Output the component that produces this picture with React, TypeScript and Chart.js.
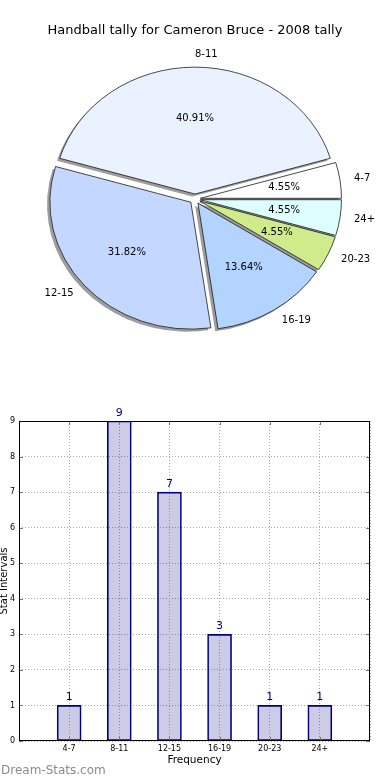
import React, { useEffect, useRef } from "react";
import { Chart, registerables } from "chart.js";

Chart.register(...registerables);

// ---------- data ----------
const chartTitle = "Handball tally for Cameron Bruce - 2008 tally";
const categories = ["4-7", "8-11", "12-15", "16-19", "20-23", "24+"];
const counts = [1, 9, 7, 3, 1, 1];
const sliceColors = ["#FFFFFF", "#EAF1FF", "#C4D8FF", "#B3D4FF", "#D0EB8B", "#DDFFFF"];
const yTickValues = [0, 1, 2, 3, 4, 5, 6, 7, 8, 9];
const xAxisTitle = "Frequency";
const yAxisTitle = "Stat Intervals";
const watermark = "Dream-Stats.com";

// ---------- style constants ----------
const FONT = "'DejaVu Sans', 'Liberation Sans', sans-serif";
const SQUASH = 0.9; // vertical squash of the pie (non-equal aspect)
const EXPLODE = 5.5; // px explode of every wedge
const PIE_RADIUS = 141;
const SHADOW = 2.8;

// matplotlib draws counter-clockwise from east; Chart.js goes clockwise, so reverse
const pieOrder = categories.map((_, i) => categories.length - 1 - i);
const total = counts.reduce((s, v) => s + v, 0);

const piePlugin = {
  id: "pieDecor",
  afterDatasetsUpdate(chart: any) {
    const meta = chart.getDatasetMeta(0);
    meta.data.forEach((a: any) => {
      const mid = (a.startAngle + a.endAngle) / 2;
      a.x += EXPLODE * Math.cos(mid);
      a.y += EXPLODE * Math.sin(mid);
    });
  },
  beforeDatasetsDraw(chart: any) {
    const { ctx, chartArea } = chart;
    const cx = (chartArea.left + chartArea.right) / 2;
    const cy = (chartArea.top + chartArea.bottom) / 2;
    ctx.save();
    ctx.translate(cx, cy);
    ctx.scale(1, SQUASH);
    ctx.translate(-cx, -cy);
    const meta = chart.getDatasetMeta(0);
    ctx.fillStyle = "rgba(60,60,60,0.5)";
    meta.data.forEach((a: any) => {
      const sx = a.x - SHADOW;
      const sy = a.y + SHADOW;
      ctx.beginPath();
      ctx.moveTo(sx, sy);
      ctx.arc(sx, sy, a.outerRadius, a.startAngle, a.endAngle);
      ctx.closePath();
      ctx.fill();
    });
  },
  afterDatasetsDraw(chart: any) {
    const { ctx, chartArea } = chart;
    ctx.restore();
    const cy = (chartArea.top + chartArea.bottom) / 2;
    const meta = chart.getDatasetMeta(0);
    ctx.save();
    ctx.font = `10px ${FONT}`;
    ctx.fillStyle = "#000";
    ctx.textBaseline = "middle";
    meta.data.forEach((a: any, j: number) => {
      const idx = pieOrder[j];
      const mid = (a.startAngle + a.endAngle) / 2;
      const at = (f: number) => ({
        x: a.x + f * a.outerRadius * Math.cos(mid),
        y: cy + (a.y + f * a.outerRadius * Math.sin(mid) - cy) * SQUASH,
      });
      const l = at(1.1);
      ctx.textAlign = Math.cos(mid) > -1e-9 ? "left" : "right";
      ctx.fillText(categories[idx], l.x, l.y);
      const p = at(0.6);
      ctx.textAlign = "center";
      ctx.fillText(((counts[idx] / total) * 100).toFixed(2) + "%", p.x, p.y);
    });
    ctx.restore();
  },
};

const barPlugin = {
  id: "barDecor",
  afterDatasetsDraw(chart: any) {
    const { ctx } = chart;
    const meta = chart.getDatasetMeta(0);
    ctx.save();
    ctx.font = `11px ${FONT}`;
    ctx.fillStyle = "#000080";
    ctx.textAlign = "center";
    ctx.textBaseline = "alphabetic";
    meta.data.forEach((b: any, i: number) => {
      ctx.fillText(String(counts[i]), b.x, b.y - 5);
    });
    ctx.restore();
  },
  afterDraw(chart: any) {
    const { ctx, chartArea: a, scales } = chart;
    ctx.save();
    // inward tick marks (matplotlib style)
    ctx.strokeStyle = "#777";
    ctx.lineWidth = 1;
    ctx.beginPath();
    categories.forEach((_, i) => {
      const x = Math.round(scales.x.getPixelForValue(i)) + 0.5;
      ctx.moveTo(x, a.top);
      ctx.lineTo(x, a.top + 4);
      ctx.moveTo(x, a.bottom);
      ctx.lineTo(x, a.bottom - 4);
    });
    yTickValues.forEach((v) => {
      const y = Math.round(scales.y.getPixelForValue(v)) + 0.5;
      ctx.moveTo(a.left, y);
      ctx.lineTo(a.left + 4, y);
      ctx.moveTo(a.right, y);
      ctx.lineTo(a.right - 4, y);
    });
    ctx.stroke();
    // axes frame
    ctx.strokeStyle = "#000";
    ctx.lineWidth = 1;
    ctx.strokeRect(
      Math.round(a.left) + 0.5,
      Math.round(a.top) + 0.5,
      Math.round(a.right - a.left) - 1,
      Math.round(a.bottom - a.top) - 1
    );
    ctx.restore();
  },
};

export default function App() {
  const pieRef = useRef<HTMLCanvasElement>(null);
  const barRef = useRef<HTMLCanvasElement>(null);

  useEffect(() => {
    const pie = new Chart(pieRef.current as HTMLCanvasElement, {
      type: "pie",
      data: {
        labels: pieOrder.map((i) => categories[i]),
        datasets: [
          {
            data: pieOrder.map((i) => counts[i]),
            backgroundColor: pieOrder.map((i) => sliceColors[i]),
            borderColor: "#111",
            borderWidth: 0.8,
            radius: PIE_RADIUS,
            clip: false,
          } as any,
        ],
      },
      options: {
        animation: false,
        responsive: false,
        rotation: 90,
        layout: { padding: { left: 0, right: 0, top: 0, bottom: 0 } },
        plugins: {
          legend: { display: false },
          tooltip: { enabled: false },
          title: { display: false },
        },
      } as any,
      plugins: [piePlugin],
    });

    const gridStyle = { color: "#a8a8a8", lineWidth: 1, drawTicks: false };
    const bar = new Chart(barRef.current as HTMLCanvasElement, {
      type: "bar",
      data: {
        datasets: [
          {
            data: categories.map((_, i) => ({ x: i, y: counts[i] })),
            backgroundColor: "rgba(0,0,128,0.2)",
            borderColor: "#000080",
            borderWidth: 1,
            borderSkipped: false,
            barThickness: 24,
          } as any,
        ],
      },
      options: {
        animation: false,
        responsive: false,
        layout: { padding: { top: 21, right: 20, left: 0, bottom: 0 } },
        plugins: {
          legend: { display: false },
          tooltip: { enabled: false },
        },
        scales: {
          x: {
            type: "linear",
            min: -1,
            max: 6,
            offset: false,
            grid: { ...gridStyle, offset: false },
            border: { display: false, dash: [1, 2] },
            ticks: {
              stepSize: 1,
              autoSkip: false,
              maxRotation: 0,
              padding: 3,
              color: "#000",
              font: { family: FONT, size: 8 },
              callback: (v: any) => categories[v] ?? "",
            },
            title: {
              display: true,
              text: xAxisTitle,
              color: "#000",
              font: { family: FONT, size: 10.5 },
              padding: { top: 0, bottom: 13.5 },
            },
            afterFit: (s: any) => {
              s.height = 39;
            },
          },
          y: {
            type: "linear",
            min: 0,
            max: 9,
            grid: { ...gridStyle },
            border: { display: false, dash: [1, 2] },
            afterBuildTicks: (s: any) => {
              s.ticks = yTickValues.map((v) => ({ value: v }));
            },
            ticks: {
              padding: 4,
              color: "#000",
              font: { family: FONT, size: 8 },
            },
            title: {
              display: true,
              text: yAxisTitle,
              color: "#000",
              font: { family: FONT, size: 10, lineHeight: 1 },
              padding: { top: -1, bottom: 0 },
            },
            afterFit: (s: any) => {
              s.width = 19;
            },
          },
        },
      } as any,
      plugins: [barPlugin],
    });

    return () => {
      pie.destroy();
      bar.destroy();
    };
  }, []);

  return (
    <div
      style={{
        position: "fixed",
        left: 0,
        top: 0,
        width: 390,
        height: 780,
        background: "#fff",
        overflow: "hidden",
        fontFamily: FONT,
      }}
    >
      <canvas ref={pieRef} width={390} height={398} style={{ position: "absolute", left: 0, top: 0 }} />
      <canvas ref={barRef} width={390} height={380} style={{ position: "absolute", left: 0, top: 400 }} />
      <div
        style={{
          position: "absolute",
          left: 0,
          top: 22,
          width: 390,
          textAlign: "center",
          fontSize: 13,
          lineHeight: "16px",
          color: "#000",
        }}
      >
        {chartTitle}
      </div>
      <div
        style={{
          position: "absolute",
          left: 1,
          top: 763,
          fontSize: 12,
          lineHeight: "14px",
          color: "#8c8c8c",
        }}
      >
        {watermark}
      </div>
    </div>
  );
}
